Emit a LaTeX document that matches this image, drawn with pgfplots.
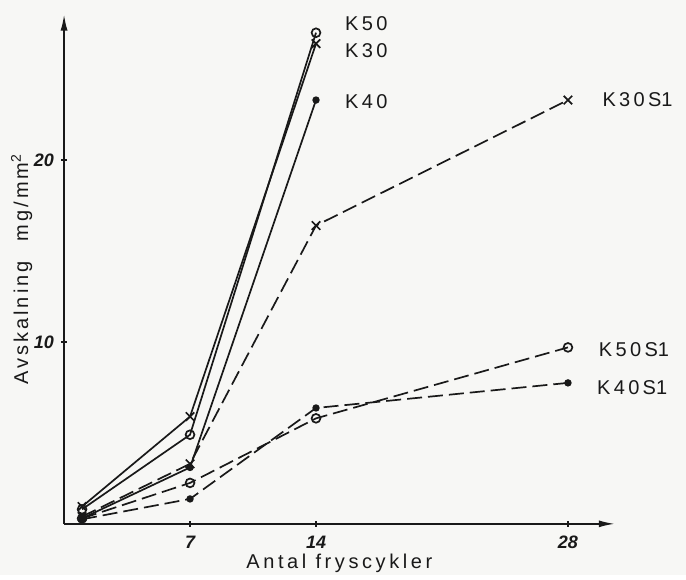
\documentclass[border=0pt]{standalone}
\usepackage{fontspec}
\setmainfont{Liberation Sans}
\usepackage{pgfplots}
\pgfplotsset{compat=1.18}
\usetikzlibrary{backgrounds,arrows.meta}
\definecolor{paper}{RGB}{247,247,245}
\definecolor{ink}{RGB}{25,25,25}
\tikzset{
    solid line/.style={solid},
    dash line/.style={dash pattern=on 7.5pt off 3pt},
    lbl/.style={font=\normalsize, text=ink, anchor=west, inner sep=0pt},
}

\begin{document}
\begin{tikzpicture}
\begin{axis}[
    scale only axis,
    width=275.5pt, height=254.8pt,
    xmin=0, xmax=30.6,
    ymin=0, ymax=28,
    axis lines=left,
    axis line style={ink, line width=0.8pt, -{Latex[length=8pt,width=3.5pt]}},
    xtick={7,14,28}, ytick={10,20},
    tick align=center, major tick length=3pt,
    tick style={ink, line width=0.7pt},
    ticklabel style={font=\bfseries\itshape\small, text=ink},
    xticklabel style={yshift=-1pt},
    /pgf/number format/assume math mode=true,
    xlabel={\addfontfeatures{LetterSpace=18}Antal fryscykler},
    ylabel={\addfontfeatures{LetterSpace=15}Avskalning\quad mg/mm\textsuperscript{2}},
    xlabel style={font=\normalsize, text=ink, yshift=4pt},
    ylabel style={font=\normalsize, text=ink, yshift=-6pt},
    clip=false,
    every axis plot/.append style={ink, line width=0.85pt},
]
\coordinate (bl) at (axis cs:-3.56,-2.8);
\coordinate (tr) at (axis cs:34.56,28.8);
% solid series
\addplot[solid line, mark=x, mark size=3pt, mark options={solid}] coordinates {(1,0.95) (7,5.9) (14,26.4)};
\addplot[solid line, mark=o, mark size=2.2pt, mark options={solid}] coordinates {(1,0.8) (7,4.9) (14,27.0)};
\addplot[solid line, mark=*, mark size=1.4pt, mark options={solid}] coordinates {(1,0.3) (7,3.1) (14,23.3)};
% dashed series (S1)
\addplot[dash line, mark=x, mark size=3pt, mark options={solid}] coordinates {(1,0.4) (7,3.3) (14,16.4) (28,23.3)};
\addplot[dash line, mark=o, mark size=2.2pt, mark options={solid}] coordinates {(1,0.3) (7,2.25) (14,5.8) (28,9.7)};
\addplot[dash line, mark=*, mark size=1.4pt, mark options={solid}] coordinates {(1,0.25) (7,1.37) (14,6.37) (28,7.75)};
% curve labels
\node[lbl] at (axis cs:15.6,27.5) {K\,5\,0};
\node[lbl] at (axis cs:15.6,26.0) {K\,3\,0};
\node[lbl] at (axis cs:15.6,23.2) {K\,4\,0};
\node[lbl] at (axis cs:29.9,23.3) {K\,3\,0\,S1};
\node[lbl] at (axis cs:29.7,9.6) {K\,5\,0\,S1};
\node[lbl] at (axis cs:29.6,7.5) {K\,4\,0\,S1};
\end{axis}
\begin{pgfonlayer}{background}
\fill[paper] (bl) rectangle (tr);
\end{pgfonlayer}
\end{tikzpicture}
\end{document}
